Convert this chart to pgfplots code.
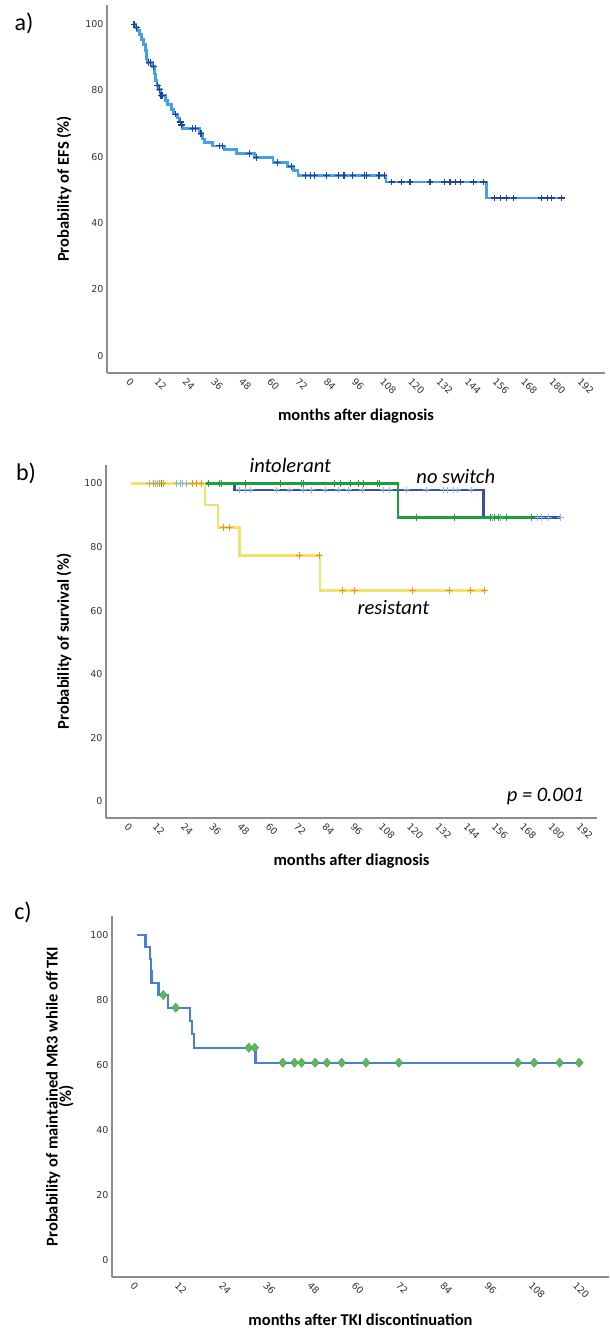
\documentclass[border=0pt]{standalone}
\usepackage{fontspec}
\setmainfont{Carlito}
\newfontfamily\tickfont{DejaVu Sans}
\usepackage{pgfplots}
\pgfplotsset{compat=1.18}

\definecolor{axgray}{HTML}{8C8C8C}
\definecolor{tickgray}{HTML}{333333}
\definecolor{efsline}{HTML}{45A0E4}
\definecolor{efsmark}{HTML}{27409A}
\definecolor{nsline}{HTML}{3A4FA6}
\definecolor{nsmark}{HTML}{8BB6EA}
\definecolor{intline}{HTML}{1F9E3D}
\definecolor{resline}{HTML}{F0E26A}
\definecolor{resmark}{HTML}{F5921E}
\definecolor{mrline}{HTML}{4A7FD3}
\definecolor{mrmark}{HTML}{5CB85C}

\newcommand{\labfont}{\fontsize{16.5}{16.5}\selectfont\bfseries}

\pgfplotsset{
  km/.style={
    scale only axis,
    axis lines=left,
    axis line style={-, draw=axgray, line width=1.3pt},
    major tick length=0pt,
    ymin=-5.2, ymax=105.8,
    ytick={0,20,...,100},
    /pgf/number format/assume math mode=true,
    ticklabel style={font=\tickfont\fontsize{9.5}{9.5}\selectfont, text=tickgray},
    xticklabel style={rotate=-45, anchor=north west, xshift=-2pt, yshift=-1pt},
    every axis x label/.style={at={(axis description cs:0.5,0)}, anchor=center, yshift=-43pt, font=\labfont},
  },
  kmy/.style={every axis y label/.style={at={(axis description cs:#1,0.5)}, rotate=90, anchor=center, align=center, font=\labfont}},
}

\begin{document}
\begin{tikzpicture}
\path[use as bounding box] (0pt,0pt) rectangle (610pt,-1328pt);

% ---- a) EFS
\node[font=\fontsize{24}{24}\selectfont] at (24pt,-23pt) {a)};
\begin{axis}[km, kmy=-0.086,
  at={(107pt,-5pt)}, anchor=north west,
  width=498pt, height=368pt,
  xmin=-11, xmax=201,
  xtick={0,12,...,192},
  xlabel={months after diagnosis},
  ylabel={Probability of EFS (\%)},
]
\addplot[const plot, efsline, line width=2.8pt] coordinates {
(0,100)(1,99)(2,98)(3,97)(3.8,95.5)(4.5,94)(5.3,92)(5.8,89.5)(6.3,88.4)(8.5,87.2)
(9.2,85)(9.8,83)(10.3,81.6)(11,80.3)(11.8,78.5)(14,77)(14.8,75.8)(16.5,74.2)
(17.4,72.9)(19,71.7)(20,70.5)(20.6,69.6)(21.3,68.6)(28.5,67)(29.6,65.4)(30.6,64.3)
(33.9,63.3)(39.1,62.3)(44.1,61)(51.9,59.8)(59.7,58.3)(66,57.1)(68.5,55.8)(70.3,54.4)
(107.8,52.4)(150.6,47.6)(182.4,47.6)};
\addplot[only marks, mark=+, mark size=3.3pt, efsmark, line width=1.1pt] coordinates {
(0.5,100)(1.5,99)(6.8,88.4)(7.6,88.4)(8.8,87.2)(10.5,81.6)(11.3,80.3)(12,78.5)(12.6,78.5)
(18,72.9)(20.3,70.5)(20.8,69.6)(25.5,68.6)(26.8,68.6)(29,67)(37,63.3)(38,63.3)
(49.5,61)(52.5,59.8)(61.5,58.3)(67.5,57.1)
(73.6,54.4)(75.5,54.4)(77.5,54.4)(82.4,54.4)(87.4,54.4)(89.9,54.4)(93.7,54.4)(98.7,54.4)
(99.5,54.4)(104.8,54.4)(107,54.4)
(110.3,52.4)(114.4,52.4)(118,52.4)(126.5,52.4)(132.7,52.4)(135,52.4)(137.3,52.4)
(139.6,52.4)(145.1,52.4)(149.3,52.4)
(154,47.6)(156.7,47.6)(159.2,47.6)(162.2,47.6)(174,47.6)(176.6,47.6)(178.3,47.6)(182.4,47.6)};
\end{axis}

% ---- b) survival
\node[font=\fontsize{24}{24}\selectfont] at (26pt,-473pt) {b)};
\begin{axis}[km, kmy=-0.0855,
  at={(106pt,-465pt)}, anchor=north west,
  width=491pt, height=353pt,
  xmin=-10.6, xmax=198,
  xtick={0,12,...,192},
  clip=false,
  xlabel={months after diagnosis},
  ylabel={Probability of survival (\%)},
]
% no switch
\addplot[const plot, nsline, line width=2.6pt] coordinates {
(0,100)(44,98)(149.8,89.2)(182.6,89.2)};
\addplot[only marks, mark=+, mark size=3.3pt, nsmark, line width=1pt] coordinates {
(7.9,100)(10.4,100)(11.3,100)(12.1,100)(19.5,100)(21.2,100)(22,100)(23.7,100)
(46,98)(48.5,98)(51,98)(61.8,98)(67.5,98)(73.3,98)(76.7,98)(82.5,98)(88.2,98)(92.4,98)
(98.2,98)(107.3,98)(109.8,98)(117.2,98)(125.5,98)(132.9,98)(134.6,98)(137,98)(138.7,98)(144.5,98)
(153.6,89.2)(157,89.2)(159.4,89.2)(172.7,89.2)(174.3,89.2)(177.6,89.2)(182.6,89.2)};
% intolerant
\addplot[const plot, intline, line width=2.6pt] coordinates {
(0,100)(113.4,89.3)(170.2,89.3)};
\addplot[only marks, mark=+, mark size=3.3pt, intline, line width=1pt] coordinates {
(12,100)(13,100)(32.8,100)(37.7,100)(38.6,100)(48.5,100)(63.4,100)(72.5,100)(73.3,100)
(86.6,100)(89.2,100)(93.3,100)(96.5,100)(99,100)(104.8,100)(105.6,100)
(121.4,89.3)(137.6,89.3)(152.8,89.3)(154.5,89.3)(156.1,89.3)(159.4,89.3)(170.2,89.3)};
% resistant
\addplot[const plot, resline, line width=2.6pt] coordinates {
(0,100)(31.5,93.2)(36.9,86.2)(46,77.4)(80.3,66.4)(150.8,66.4)};
\addplot[only marks, mark=+, mark size=3.3pt, resmark, line width=1pt] coordinates {
(9.6,100)(12.1,100)(13.7,100)(26.2,100)(27.8,100)(29.8,100)
(39.4,86.2)(41.9,86.2)(71.7,77.4)(80,77.4)
(89.9,66.4)(94.9,66.4)(119.7,66.4)(135.4,66.4)(144.2,66.4)(150.3,66.4)};
\node[font=\fontsize{20.5}{20.5}\selectfont\itshape] at (axis cs:67.7,105.6) {intolerant};
\node[font=\fontsize{20.5}{20.5}\selectfont\itshape] at (axis cs:138,102.2) {no switch};
\node[font=\fontsize{20.5}{20.5}\selectfont\itshape] at (axis cs:111.5,61.1) {resistant};
\node[font=\fontsize{20.5}{20.5}\selectfont\itshape] at (axis cs:176,1.6) {p = 0.001};
\end{axis}

% ---- c) MR3 off TKI
\node[font=\fontsize{24}{24}\selectfont] at (23pt,-912pt) {c)};
\begin{axis}[km, kmy=-0.105,
  at={(112pt,-916pt)}, anchor=north west,
  width=497pt, height=361pt,
  xmin=-6.8, xmax=128,
  xtick={0,12,...,120},
  xlabel={months after TKI discontinuation},
  ylabel={Probability of maintained MR3 while off TKI\\[-3pt](\%)},
]
\addplot[const plot, mrline, line width=2.2pt] coordinates {
(0,100)(2.3,96.3)(3.4,92.6)(3.7,88.9)(3.9,85.2)(5.8,81.5)(8.4,77.6)(14.3,73.5)
(15.0,69.4)(15.4,65.3)(32.1,60.7)(120,60.7)};
\addplot[only marks, mark=diamond*, mark size=4.6pt, draw=mrmark!85!black, fill=mrmark, line width=0.4pt,
  mark options={xscale=1.15}] coordinates {
(7.1,81.5)(10.5,77.6)(30.3,65.3)(31.9,65.3)
(39.5,60.7)(42.7,60.7)(44.6,60.7)(48.3,60.7)(51.5,60.7)(55.5,60.7)(62.1,60.7)(71,60.7)
(103.3,60.7)(107.7,60.7)(114.6,60.7)(119.9,60.7)};
\end{axis}
\end{tikzpicture}
\end{document}
